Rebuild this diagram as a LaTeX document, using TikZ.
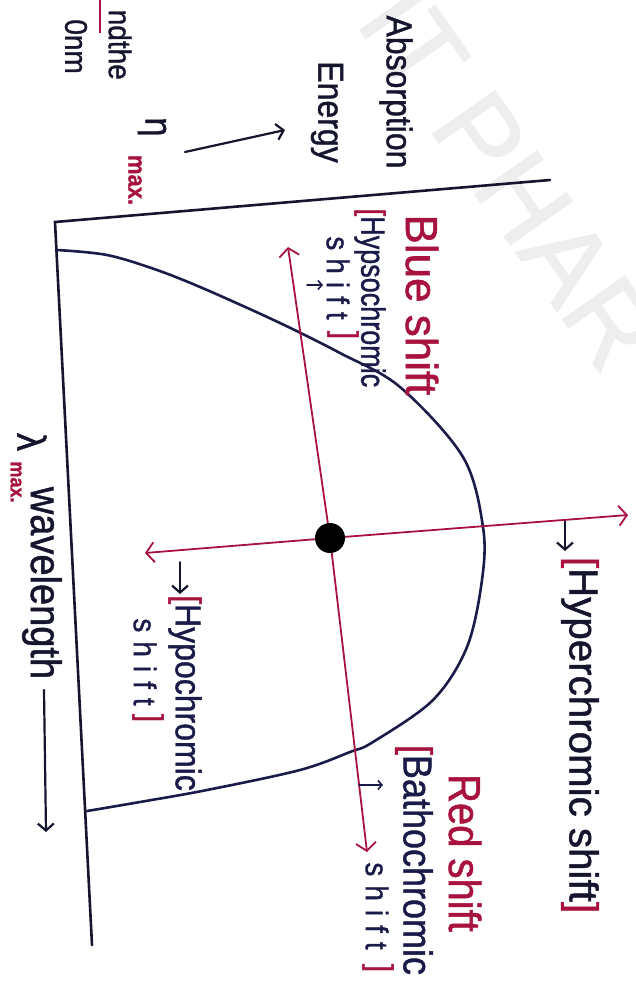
\documentclass[tikz,border=0pt]{standalone}
\usepackage{fontspec}
\setmainfont{Liberation Sans}[FakeBold=1.2]
\usetikzlibrary{arrows.meta}
\definecolor{ink}{HTML}{1B1B4A}
\definecolor{axisink}{HTML}{15152E}
\definecolor{redink}{HTML}{A8123F}
\definecolor{wm}{HTML}{EEEEEE}
\begin{document}
\begin{tikzpicture}[x=1pt,y=-1pt,
  hand/.style={rotate=-90, yscale=1.12, inner sep=0pt, text=ink},
  redhand/.style={rotate=-90, yscale=1.12, inner sep=0pt, text=redink},
  axisline/.style={draw=axisink, line width=2.6pt, line cap=round},
  curveline/.style={draw=ink, line width=2.6pt, line cap=round},
  shiftline/.style={draw=redink, line width=1.8pt, line cap=round, -{Straight Barb[length=8pt,width=20pt,line width=1.8pt]}},
  penarrow/.style={draw=axisink, line width=2.2pt, line cap=round, -{Straight Barb[length=7pt,width=16pt,line width=2.2pt]}},
  smallarrow/.style={draw=ink, line width=1.6pt, line cap=round, -{Straight Barb[length=4pt,width=9pt,line width=1.6pt]}}
]
\useasboundingbox (0,0) rectangle (636,989);
\fill[white] (0,0) rectangle (636,989);
\clip (0,0) rectangle (636,989);

% watermark
\node[rotate=-55, anchor=west, inner sep=0pt, text=wm, font=\fontsize{110}{120}\selectfont] (wmark) at (385,0) {IT PHAR};

% axes
\coordinate (O) at (55,222);
\coordinate (Ytop) at (550,180);
\coordinate (Xend) at (92,945);
\draw[axisline] (Ytop) -- (O) -- (Xend);

% absorption curve
\draw[curveline] plot[smooth, tension=0.55] coordinates {
 (57,250) (107,255) (157,270) (207,290) (280,323) (340,353) (400,387)
 (463,457) (483,527) (482,580) (467,647) (433,700) (373,742) (350,752)
 (300,770) (207,790) (140,802) (87,811)};

% shift lines
\coordinate (c) at (330,538);
\coordinate (hL) at (145,553);
\coordinate (hR) at (628,515);
\coordinate (vT) at (288,247);
\coordinate (vB) at (367,852);
\draw[shiftline] (c) -- (hL);
\draw[shiftline] (c) -- (hR);
\draw[shiftline] (c) -- (vT);
\draw[shiftline] (c) -- (vB);
\node[circle, fill=black, minimum width=30pt, minimum height=27pt, inner sep=0pt] (dot) at (c) {};

% y axis labels
\node[hand, text=axisink, font=\fontsize{32}{36}\selectfont] (absorption) at (396,92) {Absorption};
\node[hand, text=axisink, font=\fontsize{32}{36}\selectfont] (energy) at (327,112) {Energy};
\node[hand, text=axisink, font=\fontsize{34}{38}\selectfont] (eta) at (152,127) {η};
\node[redhand, font=\fontsize{22}{24}\selectfont\bfseries] (etamax) at (135,180) {max.};
\coordinate (eA) at (185,152);
\coordinate (eB) at (285,130);
\draw[penarrow] (eA) -- (eB);

% cut-off text at top left
\node[hand, anchor=east, text=axisink, font=\fontsize{28}{30}\selectfont] (cutA) at (120,80) {ndthe};
\node[hand, anchor=east, text=axisink, font=\fontsize{28}{30}\selectfont] (cutB) at (76,74) {0nm};
\coordinate (ulA) at (100,0);
\coordinate (ulB) at (100,33);
\draw[draw=redink, line width=1.6pt] (ulA) -- (ulB);

% blue shift
\node[redhand, font=\fontsize{40}{44}\selectfont, xscale=1.1] (blue) at (422,305) {Blue shift};
\node[hand, font=\fontsize{30}{34}\selectfont, xscale=0.9] (hypso) at (370,298) {\textcolor{redink}{[}Hypsochromic};
\node[hand, font=\fontsize{28}{32}\selectfont] (hypsoshift) at (338,278) {s\kern8pt h\kern8pt i\kern8pt f\kern8pt t};
\node[redhand, font=\fontsize{30}{34}\selectfont] (hypsobr) at (343,335) {]};
\coordinate (saA) at (307,285);
\coordinate (saB) at (323,285);
\draw[smallarrow] (saA) -- (saB);

% hyperchromic
\coordinate (hyA) at (565,521);
\coordinate (hyB) at (565,551);
\draw[penarrow, line width=1.8pt] (hyA) -- (hyB);
\node[hand, text=axisink, font=\fontsize{36}{40}\selectfont, xscale=1.12] (hyper) at (580,735) {\textcolor{redink}{[}Hyperchromic shift\textcolor{redink}{]}};

% hypochromic
\coordinate (hoA) at (180,562);
\coordinate (hoB) at (180,594);
\draw[penarrow, line width=1.8pt] (hoA) -- (hoB);
\node[hand, font=\fontsize{32}{36}\selectfont] (hypo) at (185,693) {\textcolor{redink}{[}Hypochromic};
\node[hand, font=\fontsize{28}{32}\selectfont] (hyposhift) at (145,662) {s\kern9pt h\kern9pt i\kern9pt f\kern9pt t};
\node[redhand, font=\fontsize{30}{34}\selectfont] (hypobr) at (148,718) {]};

% red shift
\node[redhand, font=\fontsize{40}{44}\selectfont] (red) at (465,853) {Red shift};
\node[hand, font=\fontsize{36}{40}\selectfont] (batho) at (414,860) {\textcolor{redink}{[}Bathochromic};
\node[hand, font=\fontsize{28}{32}\selectfont] (bathoshift) at (377,906) {s\kern9pt h\kern9pt i\kern9pt f\kern9pt t};
\node[redhand, font=\fontsize{30}{34}\selectfont] (bathobr) at (378,968) {]};
\coordinate (sbA) at (359,785);
\coordinate (sbB) at (383,785);
\draw[smallarrow] (sbA) -- (sbB);

% x axis labels
\node[hand, text=axisink, font=\fontsize{36}{40}\selectfont] (lambda) at (32,442) {λ};
\node[redhand, font=\fontsize{18}{20}\selectfont\bfseries] (lmax) at (16,482) {max.};
\node[hand, text=axisink, font=\fontsize{38}{42}\selectfont] (wavelength) at (42,583) {wavelength};
\coordinate (wA) at (44,690);
\coordinate (wB) at (46,832);
\draw[penarrow] (wA) -- (wB);
\end{tikzpicture}
\end{document}
